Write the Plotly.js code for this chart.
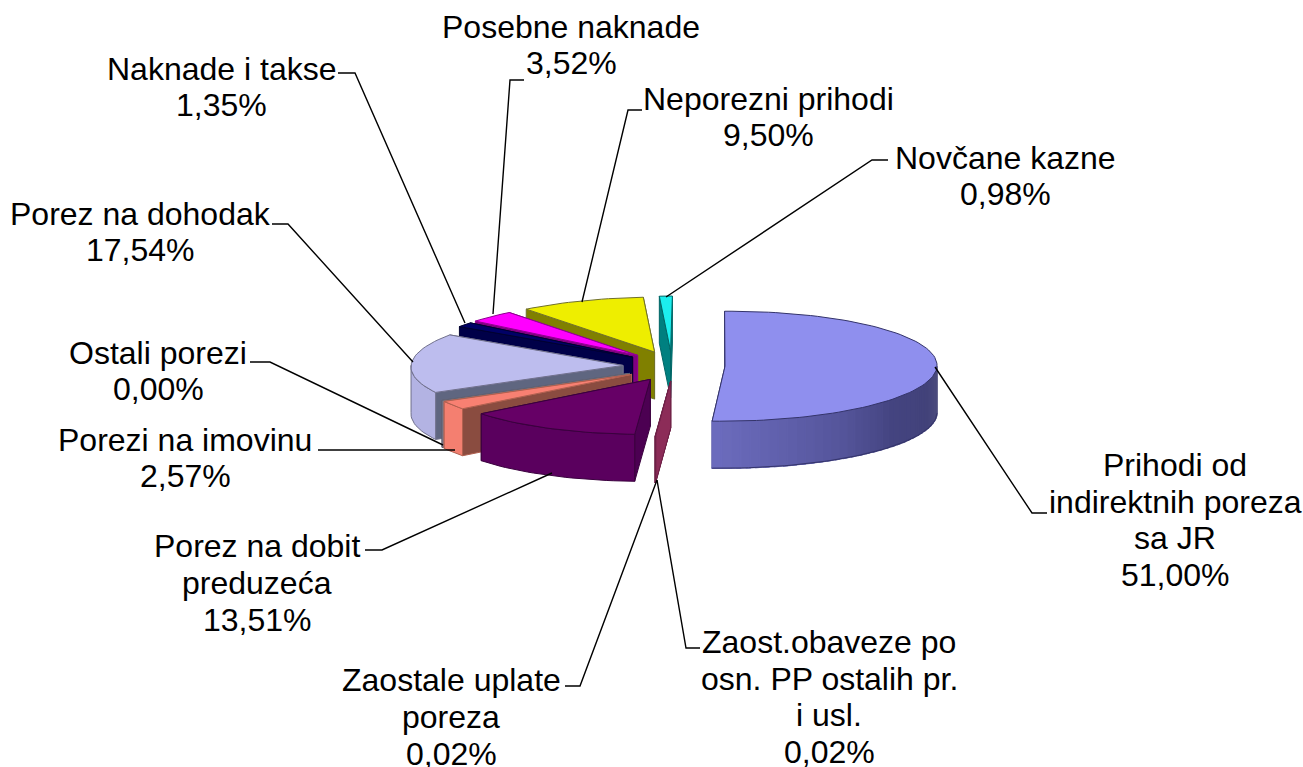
<!DOCTYPE html>
<html><head><meta charset="utf-8">
<script src="https://cdn.plot.ly/plotly-3.0.1.min.js"></script>
<style>html,body{margin:0;padding:0;background:#fff}</style></head>
<body><div id="chart" style="width:1303px;height:767px"></div>
<script>
// ---- data ----
const categories = ["Prihodi od<br>indirektnih poreza<br>sa JR","Zaost.obaveze po<br>osn. PP ostalih pr.<br>i usl.","Zaostale uplate<br>poreza","Porez na dobit<br>preduzeća","Porezi na imovinu","Ostali porezi","Porez na dohodak","Naknade i takse","Posebne naknade","Neporezni prihodi","Novčane kazne"];
const values = [51.00,0.02,0.02,13.51,2.57,0.00,17.54,1.35,3.52,9.50,0.98];
// ---- styles: top, outer side, radial side, outline ----
const topColors =  ["#8f8fee","#94305f","#94305f","#660066","#f88072","#808090","#bdbdee","#000066","#ff00ff","#eeee00","#1ceeee"];
const sideColors = ["#6a6abc","#94305f","#94305f","#5a005e","#f47f70","#808090","#b3b3e3","#000050","#800080","#808000","#008080"];
const radColors =  ["#6a6abc","#8c2c58","#8c2c58","#4c0052","#8a4c40","#808090","#5f6680","#000048","#800080","#808000","#008080"];
const edgeColors = ["#34346a","#6e2046","#6e2046","#3a003e","#b06050","#606070","#70708c","#000030","#900090","#70702a","#006666"];
const blueGradient = ["#50507e","#42427a","#444480","#54549a","#6060ac","#6c6cbe"];
// ---- order of painting, back to front ----
const paintOrder = [10,9,8,7,6,0,2,1,5,4,3];
// ---- projection of the exploded, tilted pie ----
const pie = {cx:673, cy:366, a:212, b:55, depth:47, explode:50, explodeY:0.3, shear:0.1, start:-91};
// ---- labels: centre of the text block and leader polyline ----
const labelPos = [[1175,520],[829,697],[451,717],[257,583],[185,458],[158,371],[140,232],[221,87],[571,45],[768,117],[1005,176]];
const labelFont = {family:'"Liberation Sans",Arial,sans-serif',size:32,color:'#000'};
const lineStep = 36.7;
const leadersX = [[935,1032,1047],[657,686,700],[657,580,565],[552,382,365],[455,318],[443,270,250],[413,288,272],[465,355,338],[493,510,524],[582,628,642],[666,872,888]];
const leadersY = [[367,513,513],[480,648,648],[480,686,686],[473,550,550],[450,450],[445,362,362],[362,224,224],[323,73,73],[314,80,80],[302,110,110],[297,160,160]];

const total = values.reduce((s,v)=>s+v,0);
let acc = pie.start;
const slices = values.map(v=>{const t1=acc, t2=acc+v/total*360; acc=t2; return {t1,t2};});
const rad = d=>d*Math.PI/180;
function pt(c,t,dz,sh){
  const dx=pie.a*Math.cos(rad(t)), dy=pie.b*Math.sin(rad(t));
  return [c[0]+dx-(c.sh===undefined?pie.shear:c.sh)*dy, c[1]+dy+(dz||0)];
}
function poly(pts,fill,line,w){
  return {type:'scatter',mode:'lines',x:pts.map(p=>p[0]).concat(pts[0][0]),y:pts.map(p=>p[1]).concat(pts[0][1]),
    fill:'toself',fillcolor:fill,line:{color:line,width:w===undefined?1:w},hoverinfo:'skip',showlegend:false};
}
function arc(c,t1,t2,dz){const n=Math.max(2,Math.ceil(Math.abs(t2-t1)/2));const o=[];for(let i=0;i<=n;i++)o.push(pt(c,t1+(t2-t1)*i/n,dz));return o;}
function hex(c){return [1,3,5].map(i=>parseInt(c.substr(i,2),16));}
function gradient(stops,f){const p=f*(stops.length-1),i=Math.min(Math.floor(p),stops.length-2),u=p-i;
  const A=hex(stops[i]),B=hex(stops[i+1]);return 'rgb('+A.map((a,k)=>Math.round(a+(B[k]-a)*u)).join(',')+')';}

const traces=[];
paintOrder.forEach(i=>{
  const {t1,t2}=slices[i];
  const mid=rad((t1+t2)/2);
  const c=[pie.cx+pie.explode*Math.cos(mid)+(i===0?2:0), pie.cy+pie.explode*pie.explodeY*Math.sin(mid)];
  if(i===0) c.sh=0.06;
  const apexLow=[c[0],c[1]+pie.depth];
  [t2,t1].forEach(t=>{traces.push(poly([c,pt(c,t),pt(c,t,pie.depth),apexLow],radColors[i],edgeColors[i]));});
  const f1=Math.max(t1,0), f2=Math.min(t2,180);
  if(f2>f1){
    if(i===0){
      const steps=36;
      for(let s=0;s<steps;s++){
        const a=f1+(f2-f1)*s/steps,b=f1+(f2-f1)*(s+1)/steps+(s<steps-1?1:0);
        const col=gradient(blueGradient,(s+0.5)/steps);
        traces.push(poly(arc(c,a,b,0).concat(arc(c,b,a,pie.depth)),col,col,1.5));
      }
      const low=arc(c,f1,f2,pie.depth);
      traces.push({type:'scatter',mode:'lines',x:low.map(p=>p[0]),y:low.map(p=>p[1]),line:{color:edgeColors[i],width:1},hoverinfo:'skip',showlegend:false});
    } else {
      traces.push(poly(arc(c,f1,f2,0).concat(arc(c,f2,f1,pie.depth)),sideColors[i],edgeColors[i]));
    }
  }
  if(t2-t1>0.5) traces.push(poly([c].concat(arc(c,t1,t2,0)),topColors[i],edgeColors[i]));
});

leadersX.forEach((lx,i)=>traces.push({type:'scatter',mode:'lines',x:lx,y:leadersY[i],line:{color:'#000',width:1.4},hoverinfo:'skip',showlegend:false}));

const annotations=[];
categories.forEach((n,i)=>{
  const lines=n.split('<br>').concat(values[i].toFixed(2).replace('.',',')+'%');
  lines.forEach((txt,k)=>annotations.push({
    xref:'x',yref:'y',x:labelPos[i][0],y:labelPos[i][1]+(k-(lines.length-1)/2)*lineStep,
    xanchor:'center',yanchor:'middle',showarrow:false,align:'center',text:txt,font:labelFont
  }));
});

Plotly.newPlot('chart',traces,{
  width:1303,height:767,margin:{l:0,r:0,t:0,b:0},paper_bgcolor:'#fff',plot_bgcolor:'#fff',showlegend:false,
  xaxis:{range:[0,1303],visible:false,fixedrange:true},
  yaxis:{range:[767,0],visible:false,fixedrange:true},
  annotations
},{displayModeBar:false,staticPlot:true});
</script></body></html>
